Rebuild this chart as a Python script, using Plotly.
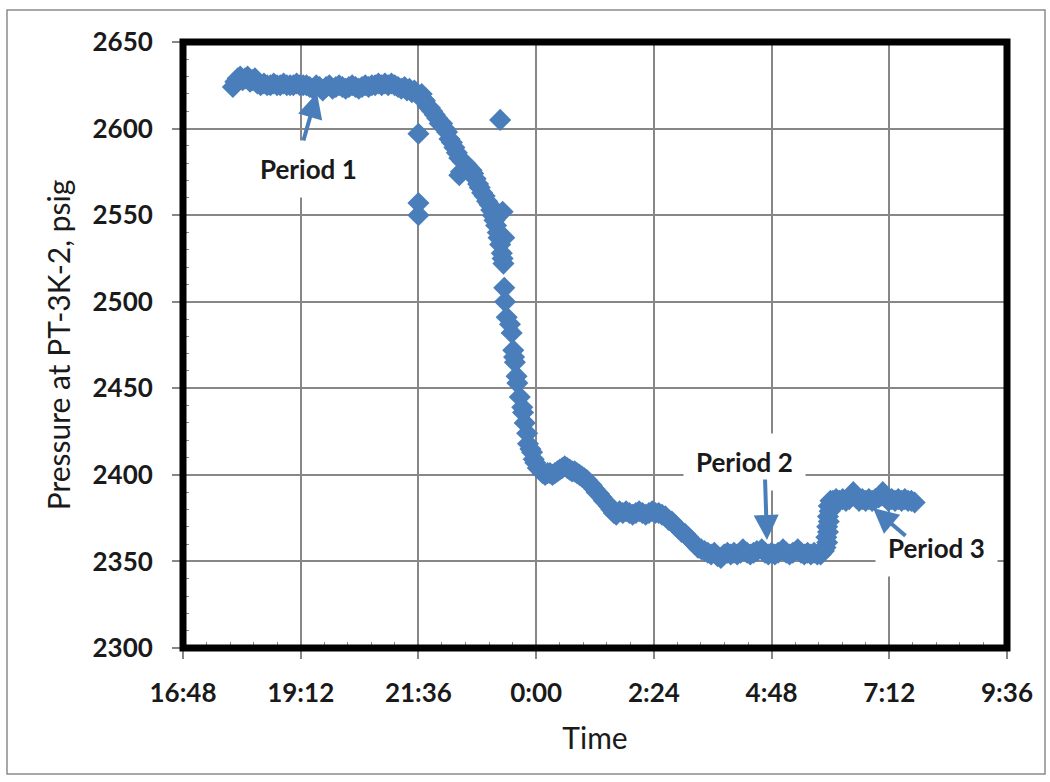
import plotly.graph_objects as go

# ---- data ----
times = [
    # Period 1
    "17:49", "17:52", "17:55", "17:58", "18:01", "18:04", "18:07", "18:10", "18:13", "18:16",
    "18:19", "18:23", "18:27", "18:31", "18:35", "18:39", "18:43", "18:47", "18:51", "18:55",
    "18:59", "19:03", "19:07", "19:11", "19:15", "19:19", "19:23", "19:27", "19:31", "19:35",
    "19:39", "19:43", "19:47", "19:51", "19:55", "19:59", "20:03", "20:07", "20:11", "20:15",
    "20:19", "20:23", "20:27", "20:31", "20:35", "20:39", "20:43", "20:47", "20:51", "20:55",
    "20:59", "21:03", "21:07", "21:11", "21:15",
    # drop
    "21:19", "21:22", "21:25", "21:28", "21:31", "21:34", "21:36", "21:36", "21:36", "21:38",
    "21:40", "21:42", "21:44", "21:47", "21:50", "21:53", "21:56", "21:59", "22:02", "22:05",
    "22:08", "22:11", "22:14", "22:17", "22:20", "22:23", "22:26", "22:26", "22:28", "22:30",
    "22:33", "22:35", "22:38", "22:41", "22:43", "22:46", "22:49", "22:51", "22:54", "22:57",
    "23:00", "23:03", "23:05", "23:07", "23:09", "23:11", "23:13", "23:14", "23:16", "23:16",
    "23:18", "23:19", "23:19", "23:20", "23:21", "23:21", "23:22", "23:24", "23:28", "23:30",
    "23:32", "23:33", "23:34", "23:36", "23:37", "23:40", "23:43", "23:44", "23:46", "23:49",
    "23:50", "23:53", "23:55", "23:57", "23:59", "0:02", "0:05",
    # 2400 plateau and decline
    "0:08", "0:11", "0:14", "0:17", "0:20", "0:23", "0:26", "0:29", "0:32", "0:35",
    "0:38", "0:41", "0:44", "0:47", "0:50", "0:53", "0:56", "0:59", "1:02", "1:05",
    "1:08", "1:11", "1:14", "1:17", "1:20", "1:23", "1:26", "1:29", "1:32", "1:35",
    # 2378 plateau and decline
    "1:38", "1:42", "1:46", "1:50", "1:54", "1:58", "2:02", "2:06", "2:10", "2:14",
    "2:18", "2:22", "2:26", "2:30", "2:34", "2:38", "2:42", "2:46", "2:50", "2:54",
    "2:58", "3:02", "3:06", "3:10", "3:14", "3:18", "3:22", "3:26",
    # Period 2
    "3:30", "3:34", "3:38", "3:42", "3:46", "3:50", "3:54", "3:58", "4:02", "4:06",
    "4:10", "4:13", "4:18", "4:22", "4:26", "4:30", "4:36", "4:40", "4:44", "4:48",
    "4:52", "4:56", "5:02", "5:06", "5:10", "5:14", "5:20", "5:24", "5:28", "5:32",
    "5:36", "5:40", "5:44",
    # rise
    "5:48", "5:52", "5:54", "5:56", "5:55", "5:57", "5:56", "5:58", "5:57", "5:59",
    "5:58", "6:00",
    # Period 3
    "6:03", "6:07", "6:11", "6:15", "6:19", "6:23", "6:26", "6:28", "6:31", "6:35",
    "6:39", "6:43", "6:47", "6:51", "6:55", "6:59", "7:02", "7:04", "7:07", "7:11",
    "7:15", "7:19", "7:23", "7:27", "7:31", "7:35", "7:39", "7:43",
]

pressure = [
    # Period 1
    2624, 2627, 2629, 2630, 2628, 2629, 2630, 2627, 2628, 2629,
    2626, 2625, 2626, 2625, 2625, 2626, 2625, 2625, 2626, 2625,
    2625, 2625, 2626, 2625, 2625, 2625, 2624, 2623, 2625, 2624,
    2622, 2624, 2625, 2623, 2624, 2625, 2624, 2623, 2624, 2625,
    2624, 2623, 2624, 2625, 2624, 2625, 2625, 2626, 2625, 2626,
    2625, 2626, 2625, 2624, 2623,
    # drop
    2624, 2622, 2623, 2621, 2622, 2620, 2597, 2557, 2550, 2619,
    2620, 2617, 2616, 2613, 2612, 2610, 2608, 2606, 2603, 2603,
    2600, 2598, 2594, 2592, 2589, 2586, 2583, 2573, 2575, 2581,
    2580, 2579, 2577, 2576, 2574, 2571, 2568, 2566, 2563, 2561,
    2558, 2556, 2553, 2550, 2547, 2544, 2540, 2537, 2605, 2533,
    2528, 2552, 2525, 2522, 2537, 2508, 2500, 2491, 2487, 2482,
    2472, 2468, 2465, 2457, 2453, 2445, 2439, 2436, 2430, 2424,
    2418, 2415, 2413, 2409, 2407, 2404, 2403,
    # 2400 plateau and decline
    2401, 2400, 2401, 2401, 2400, 2401, 2402, 2403, 2404, 2405,
    2404, 2403, 2402, 2402, 2401, 2400, 2399, 2398, 2397, 2395,
    2394, 2392, 2390, 2389, 2387, 2385, 2384, 2382, 2380, 2378,
    # 2378 plateau and decline
    2377, 2379, 2378, 2379, 2378, 2377, 2378, 2379, 2378, 2377,
    2378, 2379, 2378, 2378, 2377, 2376, 2374, 2373, 2371, 2369,
    2367, 2366, 2364, 2362, 2360, 2358, 2357, 2356,
    # Period 2
    2355, 2354, 2355, 2353, 2352, 2354, 2355, 2354, 2355, 2354,
    2355, 2357, 2355, 2354, 2355, 2356, 2357, 2355, 2354, 2355,
    2354, 2355, 2357, 2355, 2354, 2355, 2357, 2355, 2354, 2355,
    2354, 2355, 2354,
    # rise
    2354, 2356, 2358, 2361, 2364, 2367, 2370, 2373, 2376, 2379,
    2382, 2385,
    # Period 3
    2385, 2386, 2385, 2386, 2385, 2386, 2388, 2390, 2387, 2385,
    2386, 2385, 2386, 2385, 2386, 2387, 2388, 2390, 2387, 2385,
    2386, 2385, 2386, 2385, 2386, 2385, 2385, 2384,
]

x_tick_labels = ["16:48", "19:12", "21:36", "0:00", "2:24", "4:48", "7:12", "9:36"]
y_ticks = [2300, 2350, 2400, 2450, 2500, 2550, 2600, 2650]
period_labels = ["Period 1", "Period 2", "Period 3"]


def to_dt(t):
    h, m = t.split(":")
    day = "2013-01-01" if int(h) >= 12 else "2013-01-02"
    return f"{day} {int(h):02d}:{m}:00"


x_vals = [to_dt(t) for t in times]
tick_vals = [to_dt(t) for t in x_tick_labels[:-1]] + ["2013-01-02 09:36:00"]

BLUE = "#4a7ebb"
FONT = "Lato"
TXT = "#1a1a1a"

fig = go.Figure()
fig.add_trace(go.Scatter(
    x=x_vals, y=pressure, mode="markers",
    marker=dict(symbol="diamond", size=17, color=BLUE, line=dict(width=0)),
    showlegend=False, hoverinfo="x+y",
))

# plot area in pixels: x 183..1007, y 42..648
L, R, T, B = 183, 1007, 42, 648
W, H = 1050, 782


def px(x):
    return (x - L) / (R - L)


def py(y):
    return (B - y) / (B - T)


fig.update_layout(
    width=W, height=H,
    margin=dict(l=L, r=W - R, t=T, b=H - B),
    paper_bgcolor="white", plot_bgcolor="white",
    font=dict(family=FONT, color=TXT),
    xaxis=dict(
        type="date",
        range=["2013-01-01 16:48:00", "2013-01-02 09:36:00"],
        tickmode="array", tickvals=tick_vals, ticktext=x_tick_labels,
        showgrid=True, gridcolor="#878787", gridwidth=2,
        ticks="outside", ticklen=10, tickcolor="#878787", tickwidth=2,
        minor=dict(dtick=28.8 * 60 * 1000, tick0="2013-01-01 16:48:00", ticks="inside",
                   ticklen=6, tickcolor="#878787", tickwidth=1, showgrid=False),
        showline=False, zeroline=False,
        tickfont=dict(family=FONT, size=26, color=TXT, weight="bold"),
        ticklabelstandoff=12,
        title=dict(text="Time", font=dict(family=FONT, size=30, color=TXT), standoff=20),
    ),
    yaxis=dict(
        range=[2300, 2650], tickmode="array", tickvals=y_ticks,
        ticktext=[str(v) for v in y_ticks],
        showgrid=True, gridcolor="#878787", gridwidth=2,
        ticks="outside", ticklen=10, tickcolor="#878787", tickwidth=2,
        minor=dict(dtick=10, tick0=2300, ticks="inside", ticklen=6,
                   tickcolor="#878787", tickwidth=1, showgrid=False),
        showline=False, zeroline=False,
        tickfont=dict(family=FONT, size=26, color=TXT, weight="bold"),
        ticklabelstandoff=14,
        title=dict(text="Pressure at PT-3K-2, psig",
                   font=dict(family=FONT, size=30, color=TXT), standoff=12),
    ),
    shapes=[
        # outer chart border
        dict(type="rect", xref="paper", yref="paper",
             x0=px(7), x1=px(1045), y0=py(774), y1=py(10),
             line=dict(color="#8c8c8c", width=1.5), layer="below"),
        # thick black plot-area frame
        dict(type="rect", xref="paper", yref="paper", x0=0, x1=1, y0=0, y1=1,
             line=dict(color="black", width=7), layer="above"),
    ],
)

label_font = dict(family=FONT, size=26, color=TXT, weight="bold")
text_pos = [(308, 169), (744, 462), (936, 548)]
for lab, (tx, ty) in zip(period_labels, text_pos):
    fig.add_annotation(
        x=px(tx), y=py(ty), xref="paper", yref="paper", text=lab, showarrow=False,
        font=label_font, bgcolor="white", borderpad=12,
        xanchor="center", yanchor="middle",
    )

arrows = [((317, 93), (303, 142)), ((767, 540), (765, 478)), ((873, 508), (907, 537))]
for (hx, hy), (tx, ty) in arrows:
    fig.add_annotation(
        x=px(hx), y=py(hy), xref="paper", yref="paper", text="",
        showarrow=True, arrowhead=2, arrowsize=1.25, arrowwidth=4, arrowcolor=BLUE,
        ax=tx - hx, ay=ty - hy, axref="pixel", ayref="pixel", standoff=0,
    )

fig.write_html("out.html")
